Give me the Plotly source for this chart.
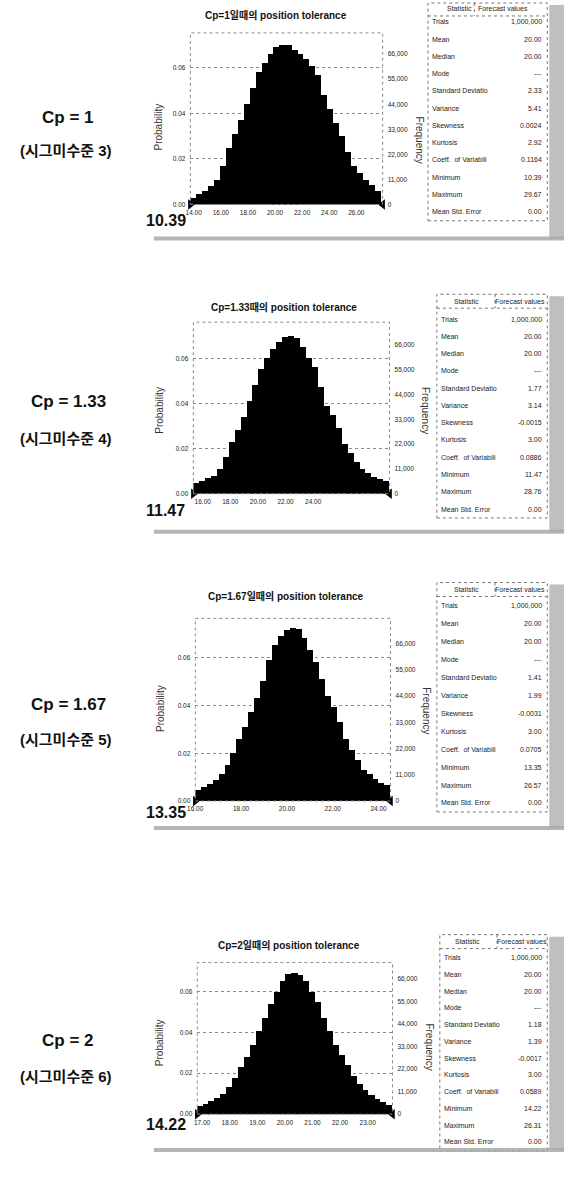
import plotly.graph_objects as go

W, H = 567, 1187

# ---------------- data ----------------
cp_labels = ["Cp = 1", "Cp = 1.33", "Cp = 1.67", "Cp = 2"]
sigma_labels = ["(시그미수준 3)", "(시그미수준 4)", "(시그미수준 5)", "(시그미수준 6)"]
titles = ["Cp=1일때의 position tolerance", "Cp=1.33때의 position tolerance",
          "Cp=1.67일때의 position tolerance", "Cp=2일때의 position tolerance"]

stat_names = ["Trials", "Mean", "Median", "Mode", "Standard Deviatio", "Variance",
              "Skewness", "Kurtosis", "Coeff.  of Variabili", "Minimum", "Maximum",
              "Mean Std. Error"]
stats_cp1 = ["1,000,000", "20.00", "20.00", "---", "2.33", "5.41", "0.0024", "2.92",
             "0.1164", "10.39", "29.67", "0.00"]
stats_cp133 = ["1,000,000", "20.00", "20.00", "---", "1.77", "3.14", "-0.0015", "3.00",
               "0.0886", "11.47", "28.76", "0.00"]
stats_cp167 = ["1,000,000", "20.00", "20.00", "---", "1.41", "1.99", "-0.0031", "3.00",
               "0.0705", "13.35", "26.57", "0.00"]
stats_cp2 = ["1,000,000", "20.00", "20.00", "---", "1.18", "1.39", "-0.0017", "3.00",
             "0.0589", "14.22", "26.31", "0.00"]

trials = 1000000
means = [20.0, 20.0, 20.0, 20.0]
minimums = [10.39, 11.47, 13.35, 14.22]

bins_cp1 = [13.17, 13.61, 14.05, 14.49, 14.93, 15.37, 15.81, 16.25, 16.69, 17.13, 17.57,
            18.01, 18.45, 18.89, 19.33, 19.77, 20.21, 20.65, 21.09, 21.53, 21.97, 22.41,
            22.85, 23.29, 23.73, 24.17, 24.61, 25.05, 25.49, 25.93, 26.37, 26.81]
freq_cp1 = [3000, 4500, 6000, 8000, 11000, 17000, 25000, 31000, 37000, 44000, 51000,
            58000, 62000, 66000, 69000, 70000, 70000, 68000, 66000, 64000, 61000, 57000,
            48000, 42000, 36000, 30000, 23000, 17000, 14000, 11000, 8500, 6000]

bins_cp133 = [13.16, 13.59, 14.02, 14.45, 14.88, 15.31, 15.74, 16.17, 16.60, 17.03, 17.46,
              17.89, 18.32, 18.75, 19.18, 19.61, 20.04, 20.47, 20.90, 21.33, 21.76, 22.19,
              22.62, 23.05, 23.48, 23.91, 24.34, 24.77, 25.20, 25.63, 26.06, 26.49, 26.92]
freq_cp133 = [4500, 5500, 7000, 8000, 11000, 16000, 23000, 28000, 34000, 41000, 48000,
              55000, 60000, 64000, 67000, 69500, 70000, 69000, 65000, 60000, 56000, 47000,
              39000, 35000, 29000, 22000, 18000, 14000, 11000, 9000, 7500, 6500, 5500]

bins_cp167 = [15.83, 16.09, 16.35, 16.60, 16.86, 17.12, 17.38, 17.64, 17.89, 18.15, 18.41,
              18.67, 18.93, 19.18, 19.44, 19.70, 19.96, 20.22, 20.47, 20.73, 20.99, 21.25,
              21.51, 21.76, 22.02, 22.28, 22.54, 22.80, 23.05, 23.31, 23.57, 23.83, 24.09]
freq_cp167 = [4500, 5500, 7000, 8500, 11000, 15000, 20000, 26000, 31000, 37000, 43000,
              50000, 59000, 65000, 69000, 71500, 72500, 72000, 68000, 63000, 58000, 51000,
              44000, 39000, 33000, 26000, 21000, 17000, 13000, 11000, 9000, 7500, 6500]

bins_cp2 = [16.53, 16.74, 16.95, 17.17, 17.38, 17.60, 17.81, 18.03, 18.24, 18.46, 18.67,
            18.89, 19.10, 19.32, 19.53, 19.74, 19.96, 20.17, 20.39, 20.60, 20.82, 21.03,
            21.25, 21.46, 21.68, 21.89, 22.10, 22.32, 22.53, 22.75, 22.96, 23.18, 23.39]
freq_cp2 = [4000, 5000, 6500, 8000, 10000, 13500, 18000, 23000, 28000, 34000, 41000,
            47000, 54000, 60000, 65000, 68500, 69000, 68000, 65000, 60000, 55000, 47000,
            41000, 34000, 29000, 24000, 19000, 15000, 12000, 9500, 7500, 6000, 4500]

bin_widths = [0.44, 0.43, 0.258, 0.2146]

xticks_cp1 = [14, 16, 18, 20, 22, 24, 26]
xticks_cp133 = [16, 18, 20, 22, 24]
xticks_cp167 = [16, 18, 20, 22, 24]
xticks_cp2 = [17, 18, 19, 20, 21, 22, 23]

prob_ticks = [0.00, 0.02, 0.04, 0.06]
freq_ticks = [0, 11000, 22000, 33000, 44000, 55000, 66000]

bins_all = [bins_cp1, bins_cp133, bins_cp167, bins_cp2]
freq_all = [freq_cp1, freq_cp133, freq_cp167, freq_cp2]
stats_all = [stats_cp1, stats_cp133, stats_cp167, stats_cp2]
xticks_all = [xticks_cp1, xticks_cp133, xticks_cp167, xticks_cp2]

# ---------------- layout geometry (pixels) ----------------
geo = [
    dict(x0=185, x1=380, top=33, bot=205, c=282, k=13.75, shift=-11, ymax=75300,
         title_x=272, title_y=15, prob_x=153, prob_y=127, freq_x=417, freq_y=140,
         cp_y=118, sig_y=151, min_y=221, sep_y=239,
         tl=426, tt=3, hdr=9, row0=22, dy=17.3, div=473, hs=458, hf=502),
    dict(x0=188, x1=387, top=323, bot=495, c=287, k=14.0, shift=-33, ymax=76000,
         title_x=280, title_y=308, prob_x=154, prob_y=411, freq_x=423, freq_y=411,
         cp_y=403, sig_y=440, min_y=512, sep_y=533,
         tl=435, tt=295, hdr=302, row0=320, dy=17.3, div=494, hs=465, hf=519),
    dict(x0=190, x1=388, top=620, bot=803, c=290, k=23.25, shift=-7, ymax=76500,
         title_x=282, title_y=598, prob_x=154, prob_y=710, freq_x=425, freq_y=712,
         cp_y=706, sig_y=741, min_y=815, sep_y=830,
         tl=435, tt=584, hdr=591, row0=607, dy=18.0, div=494, hs=465, hf=519),
    dict(x0=192, x1=390, top=965, bot=1117, c=292, k=28.0, shift=-11, ymax=74000,
         title_x=285, title_y=947, prob_x=154, prob_y=1045, freq_x=428, freq_y=1050,
         cp_y=1043, sig_y=1079, min_y=1127, sep_y=1153,
         tl=438, tt=937, hdr=944, row0=960, dy=16.8, div=496, hs=466, hf=521),
]

SANS = "Liberation Sans Narrow, Arial Narrow, Liberation Sans, Arial, sans-serif"
KR = "Liberation Sans, Arial, Noto Sans CJK KR, sans-serif"


def px(x):
    return x / W


def py(y):
    return 1 - y / H


fig = go.Figure()
layout = dict(width=W, height=H, margin=dict(l=0, r=0, t=0, b=0),
              paper_bgcolor="white", plot_bgcolor="white", showlegend=False,
              bargap=0, barmode="overlay")
annotations = []
shapes = []

for i, g in enumerate(geo):
    xn = "x" if i == 0 else f"x{i + 1}"
    yl_i, yr_i = 2 * i + 1, 2 * i + 2
    yln = "y" if yl_i == 1 else f"y{yl_i}"
    yrn = f"y{yr_i}"
    xa = "xaxis" if i == 0 else f"xaxis{i + 1}"
    yla = "yaxis" if yl_i == 1 else f"yaxis{yl_i}"
    yra = f"yaxis{yr_i}"

    m = means[i]
    xr = [m - (g["c"] - g["x0"]) / g["k"], m + (g["x1"] - g["c"]) / g["k"]]
    dom_y = [py(g["bot"]), py(g["top"])]
    tickfont = dict(family=SANS, size=6.5, color="#222")

    layout[xa] = dict(domain=[px(g["x0"]), px(g["x1"])], anchor=yln, range=xr,
                      tickvals=xticks_all[i], ticktext=[f"{v:.2f}" for v in xticks_all[i]],
                      ticklabelshift=g["shift"], ticklabelstandoff=3,
                      showgrid=False, zeroline=False, showline=False, ticks="",
                      tickfont=tickfont, fixedrange=True)
    layout[yla] = dict(domain=dom_y, anchor=xn, range=[0, g["ymax"] / trials],
                       tickvals=prob_ticks, tickformat=".2f",
                       showgrid=True, gridcolor="#8a8a8a", griddash="dot", gridwidth=1,
                       zeroline=False, showline=False, ticks="", ticklabelstandoff=4,
                       tickfont=tickfont, fixedrange=True)
    layout[yra] = dict(overlaying=yln, side="right", anchor=xn, range=[0, g["ymax"]],
                       tickvals=freq_ticks, tickformat=",",
                       showgrid=False, zeroline=False, showline=False, ticks="",
                       ticklabelstandoff=4, tickfont=tickfont, fixedrange=True)

    # histogram bars
    fig.add_trace(go.Bar(x=bins_all[i], y=freq_all[i], width=bin_widths[i] * 1.03,
                         marker=dict(color="black", line=dict(width=0)),
                         xaxis=xn, yaxis=yrn, hoverinfo="skip"))
    # certainty grabbers (triangles at range ends)
    fig.add_trace(go.Scatter(x=[xr[0], xr[1]], y=[0, 0], mode="markers",
                             marker=dict(symbol=["triangle-right", "triangle-left"],
                                         color="black", size=9),
                             cliponaxis=False, xaxis=xn, yaxis=yln, hoverinfo="skip"))

    # plot frame (dotted)
    shapes.append(dict(type="rect", xref=f"{xn} domain", yref=f"{yln} domain",
                       x0=0, x1=1, y0=0, y1=1, line=dict(color="#8a8a8a", width=1, dash="dot"),
                       layer="above"))

    # title
    annotations.append(dict(x=px(g["title_x"]), y=py(g["title_y"]), xref="paper", yref="paper",
                            text=f"<b>{titles[i]}</b>", showarrow=False,
                            font=dict(family=KR, size=10, color="#111"),
                            xanchor="center", yanchor="middle"))
    # axis titles
    annotations.append(dict(x=px(g["prob_x"]), y=py(g["prob_y"]), xref="paper", yref="paper",
                            text="Probability", textangle=-90, showarrow=False,
                            font=dict(family="Liberation Sans, Arial, sans-serif", size=10, color="#333"),
                            xanchor="center", yanchor="middle"))
    annotations.append(dict(x=px(g["freq_x"]), y=py(g["freq_y"]), xref="paper", yref="paper",
                            text="Frequency", textangle=90, showarrow=False,
                            font=dict(family="Liberation Sans, Arial, sans-serif", size=10, color="#333"),
                            xanchor="center", yanchor="middle"))
    # left labels
    annotations.append(dict(x=px(61), y=py(g["cp_y"]), xref="paper", yref="paper",
                            text=f"<b>{cp_labels[i]}</b>", showarrow=False,
                            font=dict(family=SANS, size=17, color="#111"),
                            xanchor="center", yanchor="middle"))
    annotations.append(dict(x=px(59), y=py(g["sig_y"]), xref="paper", yref="paper",
                            text=f"<b>{sigma_labels[i]}</b>", showarrow=False,
                            font=dict(family=KR, size=15, color="#111"),
                            xanchor="center", yanchor="middle"))
    # big minimum value
    annotations.append(dict(x=px(138), y=py(g["min_y"]), xref="paper", yref="paper",
                            text=f"<b>{minimums[i]:.2f}</b>", showarrow=False,
                            font=dict(family=SANS, size=16, color="#111"),
                            xanchor="left", yanchor="middle"))

    # statistics table
    last_row = g["row0"] + g["dy"] * (len(stat_names) - 1)
    tb = last_row + 9
    tr = 547
    shapes.append(dict(type="rect", xref="paper", yref="paper",
                       x0=px(g["tl"]), x1=px(tr), y0=py(tb), y1=py(g["tt"]),
                       line=dict(color="#777", width=1, dash="dot")))
    shapes.append(dict(type="line", xref="paper", yref="paper",
                       x0=px(g["tl"]), x1=px(tr), y0=py(g["hdr"] + 7), y1=py(g["hdr"] + 7),
                       line=dict(color="#777", width=1, dash="dot")))
    shapes.append(dict(type="line", xref="paper", yref="paper",
                       x0=px(g["div"]), x1=px(g["div"]), y0=py(g["tt"]), y1=py(g["hdr"] + 7),
                       line=dict(color="#777", width=1, dash="dot")))
    # hatched shadow band on the right of the table
    shapes.append(dict(type="rect", xref="paper", yref="paper",
                       x0=px(tr + 2), x1=px(564), y0=py(g["sep_y"]), y1=py(g["tt"] + 2),
                       fillcolor="#b4b4b4", line=dict(width=0), opacity=0.85))
    # hatched separator band under the panel
    shapes.append(dict(type="rect", xref="paper", yref="paper",
                       x0=px(148), x1=px(564), y0=py(g["sep_y"] + 2), y1=py(g["sep_y"] - 2),
                       fillcolor="#a8a8a8", line=dict(width=0), opacity=0.85))

    tfont = dict(family=SANS, size=7, color="#222")
    annotations.append(dict(x=px(g["hs"]), y=py(g["hdr"]), xref="paper", yref="paper",
                            text="Statistic", showarrow=False, font=tfont,
                            xanchor="center", yanchor="middle"))
    annotations.append(dict(x=px(g["hf"]), y=py(g["hdr"]), xref="paper", yref="paper",
                            text="Forecast values", showarrow=False, font=tfont,
                            xanchor="center", yanchor="middle"))
    for r, (nm, val) in enumerate(zip(stat_names, stats_all[i])):
        yy = g["row0"] + g["dy"] * r
        annotations.append(dict(x=px(g["tl"] + 2), y=py(yy), xref="paper", yref="paper",
                                text=nm, showarrow=False, font=tfont,
                                xanchor="left", yanchor="middle"))
        annotations.append(dict(x=px(544), y=py(yy), xref="paper", yref="paper",
                                text=val, showarrow=False, font=tfont,
                                xanchor="right", yanchor="middle"))

layout["annotations"] = annotations
layout["shapes"] = shapes
fig.update_layout(**layout)
fig.write_html("out.html", config={"displayModeBar": False},
               post_script="document.body.style.margin='0px';")
